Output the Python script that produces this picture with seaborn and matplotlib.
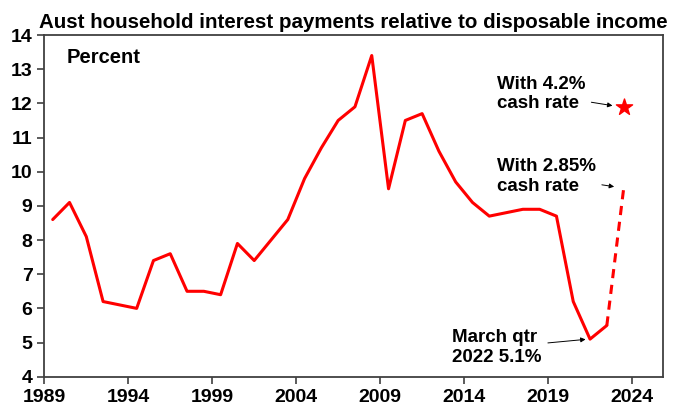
import matplotlib
matplotlib.use("Agg")
import matplotlib.pyplot as plt
import seaborn as sns
import pandas as pd

# annual data, plotted at mid-year
years = [1989.5, 1990.5, 1991.5, 1992.5, 1993.5, 1994.5, 1995.5, 1996.5, 1997.5,
         1998.5, 1999.5, 2000.5, 2001.5, 2002.5, 2003.5, 2004.5, 2005.5, 2006.5,
         2007.5, 2008.5, 2009.5, 2010.5, 2011.5, 2012.5, 2013.5, 2014.5, 2015.5,
         2016.5, 2017.5, 2018.5, 2019.5, 2020.5, 2021.5, 2022.5]
ratio = [8.6, 9.1, 8.1, 6.2, 6.1, 6.0, 7.4, 7.6, 6.5,
         6.5, 6.4, 7.9, 7.4, 8.0, 8.6, 9.8, 10.7, 11.5,
         11.9, 13.4, 9.5, 11.5, 11.7, 10.6, 9.7, 9.1, 8.7,
         8.8, 8.9, 8.9, 8.7, 6.2, 5.1, 5.5]

# projection with 2.85% cash rate
proj_years = [2022.5, 2023.5]
proj_ratio = [5.5, 9.5]

# with 4.2% cash rate
star_year = [2023.5]
star_ratio = [11.9]

xticks = [1989, 1994, 1999, 2004, 2009, 2014, 2019, 2024]

sns.set_style("white", {'text.color': 'black', 'xtick.color': 'black',
                        'ytick.color': 'black'})
plt.rcParams['font.family'] = ['Liberation Sans', 'DejaVu Sans']
plt.rcParams['font.weight'] = 'bold'

df = pd.DataFrame({'year': years, 'ratio': ratio})
dfp = pd.DataFrame({'year': proj_years, 'ratio': proj_ratio})
dfs = pd.DataFrame({'year': star_year, 'ratio': star_ratio})

fig = plt.figure(figsize=(6.85, 4.17), dpi=100)
ax = fig.add_axes([0.0647, 0.0966, 0.9033, 0.8194])

red = '#ff0000'
sns.lineplot(data=df, x='year', y='ratio', color=red, linewidth=2.2, ax=ax)
sns.lineplot(data=dfp, x='year', y='ratio', color=red, linewidth=2.2,
             linestyle=(0, (3, 2.2)), ax=ax)
sns.scatterplot(data=dfs, x='year', y='ratio', color=red, marker='*', s=150,
                edgecolor=red, ax=ax, zorder=5)

ax.set_xlim(1989, 2025.85)
ax.set_ylim(4, 14)
ax.set_xticks(xticks)
ax.set_yticks(range(4, 15))
ax.set_xlabel('')
ax.set_ylabel('')
ax.tick_params(axis='both', labelsize=14, length=5, width=1.2, color='#404040',
               labelcolor='black', direction='out', bottom=True, left=True)
for lab in ax.get_xticklabels() + ax.get_yticklabels():
    lab.set_fontweight('bold')
for sp in ax.spines.values():
    sp.set_color('#404040')
    sp.set_linewidth(1.3)

ax.set_title('Aust household interest payments relative to disposable income',
             fontsize=14.8, fontweight='bold', pad=5, color='black')

ax.text(1990.3, 13.34, 'Percent', fontsize=14.5, fontweight='bold', va='center')

akw = dict(arrowstyle='-|>', color='black', lw=0.7, mutation_scale=7)
ax.annotate('With 4.2%\ncash rate', xy=(2023.0, 11.92), xytext=(2015.95, 12.27),
            fontsize=13.5, fontweight='bold', va='center', ha='left',
            linespacing=1.2, arrowprops=akw)
ax.annotate('With 2.85%\ncash rate', xy=(2023.1, 9.55), xytext=(2015.95, 9.86),
            fontsize=13.5, fontweight='bold', va='center', ha='left',
            linespacing=1.2, arrowprops=akw)
ax.annotate('March qtr\n2022 5.1%', xy=(2021.4, 5.1), xytext=(2013.3, 4.85),
            fontsize=13.5, fontweight='bold', va='center', ha='left',
            linespacing=1.2, arrowprops=akw)

fig.savefig('out.png', dpi=100)
